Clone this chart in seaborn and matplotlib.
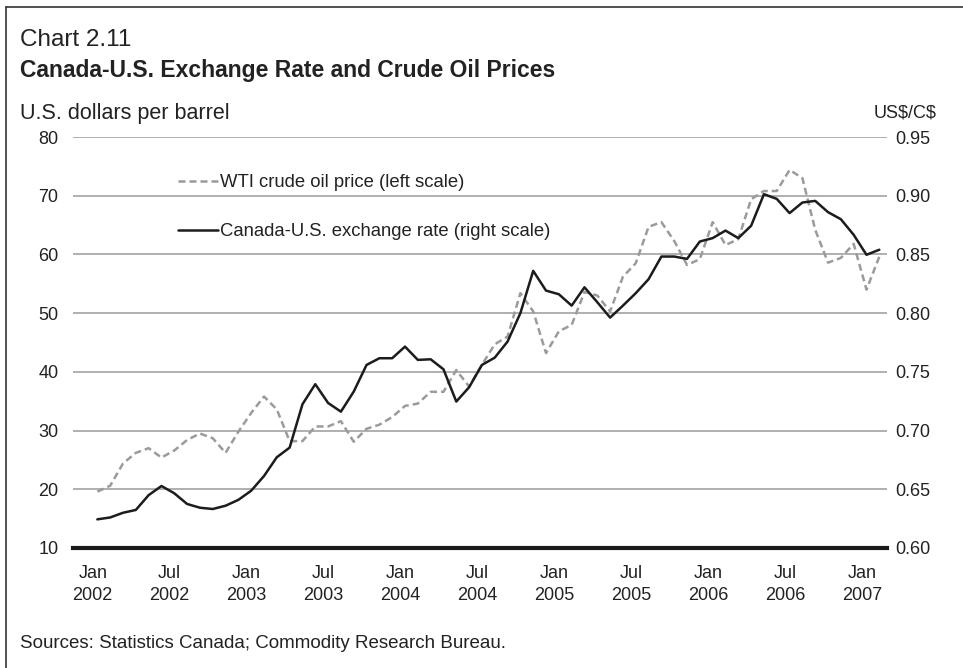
import numpy as np
import pandas as pd
import matplotlib
matplotlib.use("Agg")
import matplotlib.pyplot as plt
import seaborn as sns
from matplotlib.lines import Line2D

# ---------------- data (monthly, Jan 2002 - Feb 2007) ----------------
oil_price = [19.6, 20.6, 24.4, 26.2, 27.0, 25.4, 26.6, 28.4, 29.5, 28.7, 26.2, 29.8,
             33.0, 35.8, 33.6, 28.2, 28.2, 30.7, 30.7, 31.6, 28.1, 30.3, 31.0, 32.3,
             34.2, 34.6, 36.6, 36.6, 40.3, 37.5, 41.2, 44.7, 46.0, 53.4, 50.3, 43.2,
             46.9, 48.0, 53.6, 53.0, 50.3, 56.2, 58.5, 64.7, 65.5, 62.3, 58.2, 59.2,
             65.5, 61.6, 62.6, 69.4, 70.8, 70.8, 74.4, 73.0, 64.2, 58.6, 59.4, 61.8,
             54.0, 59.6]
exchange_rate = [0.6244, 0.6260, 0.6300, 0.6324, 0.6450, 0.6528, 0.6466, 0.6375, 0.6343, 0.6332, 0.6360, 0.6410,
                 0.6488, 0.6613, 0.6773, 0.6855, 0.7224, 0.7395, 0.7235, 0.7161, 0.7332, 0.7559, 0.7616, 0.7616,
                 0.7715, 0.7602, 0.7607, 0.7522, 0.7247, 0.7369, 0.7559, 0.7621, 0.7758, 0.8000, 0.8360, 0.8192,
                 0.8161, 0.8064, 0.8220, 0.8093, 0.7962, 0.8064, 0.8170, 0.8289, 0.8482, 0.8482, 0.8462, 0.8610,
                 0.8639, 0.8703, 0.8639, 0.8744, 0.9013, 0.8973, 0.8852, 0.8942, 0.8956, 0.8860, 0.8800, 0.8667,
                 0.8497, 0.8540]
tick_months = [0, 6, 12, 18, 24, 30, 36, 42, 48, 54, 60]
tick_labels = ["Jan\n2002", "Jul\n2002", "Jan\n2003", "Jul\n2003", "Jan\n2004", "Jul\n2004",
               "Jan\n2005", "Jul\n2005", "Jan\n2006", "Jul\n2006", "Jan\n2007"]
left_ticks = [10, 20, 30, 40, 50, 60, 70, 80]
right_ticks = [0.60, 0.65, 0.70, 0.75, 0.80, 0.85, 0.90, 0.95]
right_labels = ["0.60", "0.65", "0.70", "0.75", "0.80", "0.85", "0.90", "0.95"]
oil_label = "WTI crude oil price (left scale)"
fx_label = "Canada-U.S. exchange rate (right scale)"

# ---------------- style ----------------
sns.set_style("white")
plt.rcParams["font.family"] = ["Liberation Sans", "DejaVu Sans"]
TXT = "#222222"
GRID = "#9a9a9a"
OILC = "#9b9b9b"
FXC = "#1c1c1c"

n = len(oil_price)
df = pd.DataFrame({
    "month": np.arange(n) + 0.36,   # mid-month positions
    "oil": oil_price,
    "fx": exchange_rate,
})

W, H = 963, 668
fig = plt.figure(figsize=(W / 100, H / 100), dpi=100)
ax = fig.add_axes([73 / W, 120 / H, 814 / W, 411 / H])
ax2 = ax.twinx()

sns.lineplot(data=df, x="month", y="oil", ax=ax, color=OILC, lw=1.8, legend=False)
oil_line = ax.lines[-1]
oil_line.set_dashes([2.8, 1.6])
sns.lineplot(data=df, x="month", y="fx", ax=ax2, color=FXC, lw=1.8, legend=False)

ax.set_xlim(-1.54, 61.96)
ax.set_ylim(10, 80)
ax2.set_ylim(0.60, 0.95)

ax.set_yticks(left_ticks)
ax.set_yticklabels([str(v) for v in left_ticks])
ax2.set_yticks(right_ticks)
ax2.set_yticklabels(right_labels)
ax.set_xticks(tick_months)
ax.set_xticklabels(tick_labels, linespacing=1.35)

ax.set_xlabel("")
ax.set_ylabel("")
ax2.set_ylabel("")

ax.set_axisbelow(True)
ax.yaxis.grid(True, color=GRID, lw=1.1)
ax.xaxis.grid(False)
ax2.grid(False)

for s in ["top", "left", "right"]:
    ax.spines[s].set_visible(False)
for s in ax2.spines.values():
    s.set_visible(False)
ax.spines["bottom"].set_linewidth(3.0)
ax.spines["bottom"].set_color("#1a1a1a")
ax.spines["bottom"].set_zorder(5)

ax.tick_params(axis="y", length=0, pad=10.6, labelsize=13, labelcolor=TXT)
ax2.tick_params(axis="y", length=0, pad=6.3, labelsize=13, labelcolor=TXT)
ax.tick_params(axis="x", length=8.6, width=1.1, color=GRID, direction="out",
               pad=4, labelsize=13, labelcolor=TXT)

handles = [Line2D([], [], color=OILC, lw=1.8, dashes=[2.8, 1.6]),
           Line2D([], [], color=FXC, lw=1.8)]
leg = ax.legend(handles, [oil_label, fx_label], loc="upper left",
                bbox_to_anchor=((178 - 73) / 814, (548 - 174) / 411),
                frameon=False, fontsize=13.3, handlelength=2.15, handletextpad=0.15,
                labelspacing=1.75, borderpad=0, borderaxespad=0)
for t in leg.get_texts():
    t.set_color(TXT)

# ---------------- texts ----------------
fig.text(20 / W, 1 - 40 / H, "Chart 2.11", fontsize=17.5, color=TXT, va="center")
fig.text(20 / W, 1 - 71 / H, "Canada-U.S. Exchange Rate and Crude Oil Prices",
         fontsize=16.5, fontweight="bold", color=TXT, va="center")
fig.text(20 / W, 1 - 113 / H, "U.S. dollars per barrel", fontsize=15.5, color=TXT, va="center")
fig.text(936 / W, 1 - 113 / H, "US\\$/C\\$", fontsize=13, color=TXT, va="center", ha="right")
fig.text(20 / W, 1 - 643 / H, "Sources: Statistics Canada; Commodity Research Bureau.",
         fontsize=13.5, color=TXT, va="center")

# outer frame (top and left edges)
fig.add_artist(Line2D([5.5 / W, 1.0], [1 - 7 / H, 1 - 7 / H], transform=fig.transFigure,
                      color="#333333", lw=1.2))
fig.add_artist(Line2D([5.5 / W, 5.5 / W], [0, 1 - 7 / H], transform=fig.transFigure,
                      color="#333333", lw=1.2))

fig.savefig("out.png", dpi=100)
